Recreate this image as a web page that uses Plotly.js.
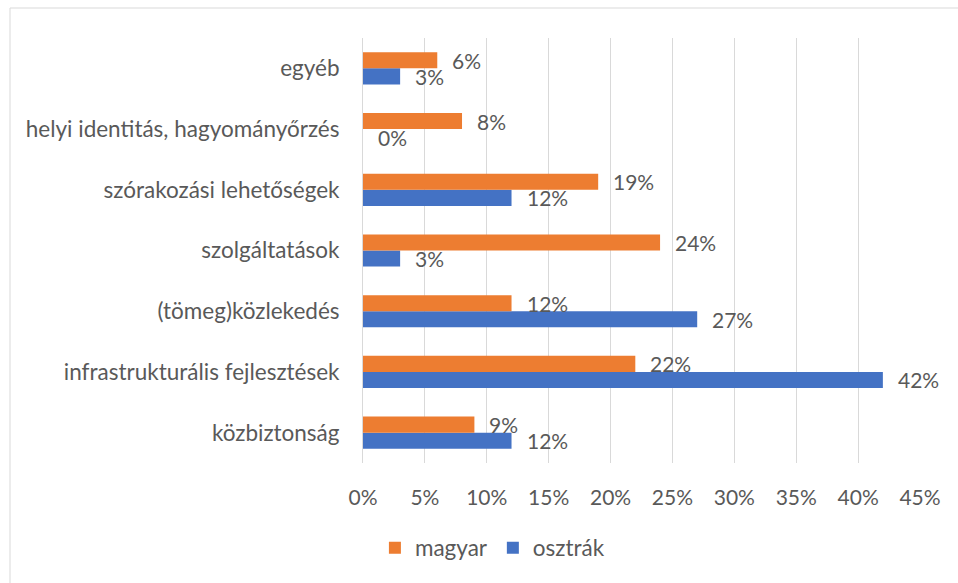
<!DOCTYPE html>
<html>
<head>
<meta charset="utf-8">
<script src="https://cdn.plot.ly/plotly-3.0.1.min.js"></script>
<style>html,body{margin:0;padding:0;background:#fff;}#chart{width:958px;height:583px;}</style>
</head>
<body>
<div id="chart"></div>
<script>
const categories = ["közbiztonság", "infrastrukturális fejlesztések", "(tömeg)közlekedés", "szolgáltatások", "szórakozási lehetőségek", "helyi identitás, hagyományőrzés", "egyéb"];
const magyar = [9, 22, 12, 24, 19, 8, 6];
const osztrak = [12, 42, 27, 3, 12, 0, 3];
const xTicks = [0, 5, 10, 15, 20, 25, 30, 35, 40, 45];

const FONT = "Lato, 'Open Sans', sans-serif";
const TXT = "#595959";
const FS = 21;
const FS_CAT = 22.5;

const traces = [
  {type: "bar", orientation: "h", name: "osztrák", y: categories, x: osztrak,
   marker: {color: "#4472C4"}, hoverinfo: "x+y"},
  {type: "bar", orientation: "h", name: "magyar", y: categories, x: magyar,
   marker: {color: "#ED7D31"}, hoverinfo: "x+y"}
];

const annotations = [];
function addLabels(vals, shift) {
  vals.forEach((v, i) => {
    annotations.push({x: v, y: categories[i], xref: "x", yref: "y", text: v + "%",
      showarrow: false, xanchor: "left", yanchor: "middle", xshift: 13, yshift: shift,
      font: {family: FONT, size: FS, color: TXT}});
  });
}
addLabels(magyar, 8);
addLabels(osztrak, -8);

const layout = {
  width: 958, height: 583,
  margin: {l: 363, r: 38, t: 38, b: 120},
  paper_bgcolor: "#fff", plot_bgcolor: "#fff",
  font: {family: FONT, size: FS, color: TXT},
  barmode: "group", bargap: 0.47, bargroupgap: 0,
  showlegend: true,
  legend: {orientation: "h", traceorder: "reversed", xref: "container", yref: "container",
    x: 0.514, xanchor: "center", y: 0.06, yanchor: "middle",
    font: {family: FONT, size: FS_CAT, color: TXT}, itemwidth: 30},
  xaxis: {range: [0, 45], tickvals: xTicks, ticktext: xTicks.map(t => t + "%"),
    showgrid: true, gridcolor: "#d9d9d9", gridwidth: 1, zeroline: false,
    showline: false, ticks: "", ticklabelstandoff: 20, fixedrange: true,
    tickfont: {family: FONT, size: FS, color: TXT}},
  yaxis: {type: "category", categoryorder: "array", categoryarray: categories,
    showgrid: false, zeroline: false, showline: true, linecolor: "#d9d9d9", linewidth: 1,
    ticks: "", ticklabelstandoff: 18, fixedrange: true,
    tickfont: {family: FONT, size: FS_CAT, color: TXT}},
  annotations: annotations,
  shapes: [{type: "rect", xref: "paper", yref: "paper",
    x0: (10 - 363) / 557, x1: (965 - 363) / 557, y0: (463 - 600) / 425, y1: (463 - 8) / 425,
    line: {color: "#d9d9d9", width: 1}, fillcolor: "rgba(0,0,0,0)", layer: "below"}]
};

Plotly.newPlot("chart", traces, layout, {displayModeBar: false, staticPlot: true});
</script>
</body>
</html>
